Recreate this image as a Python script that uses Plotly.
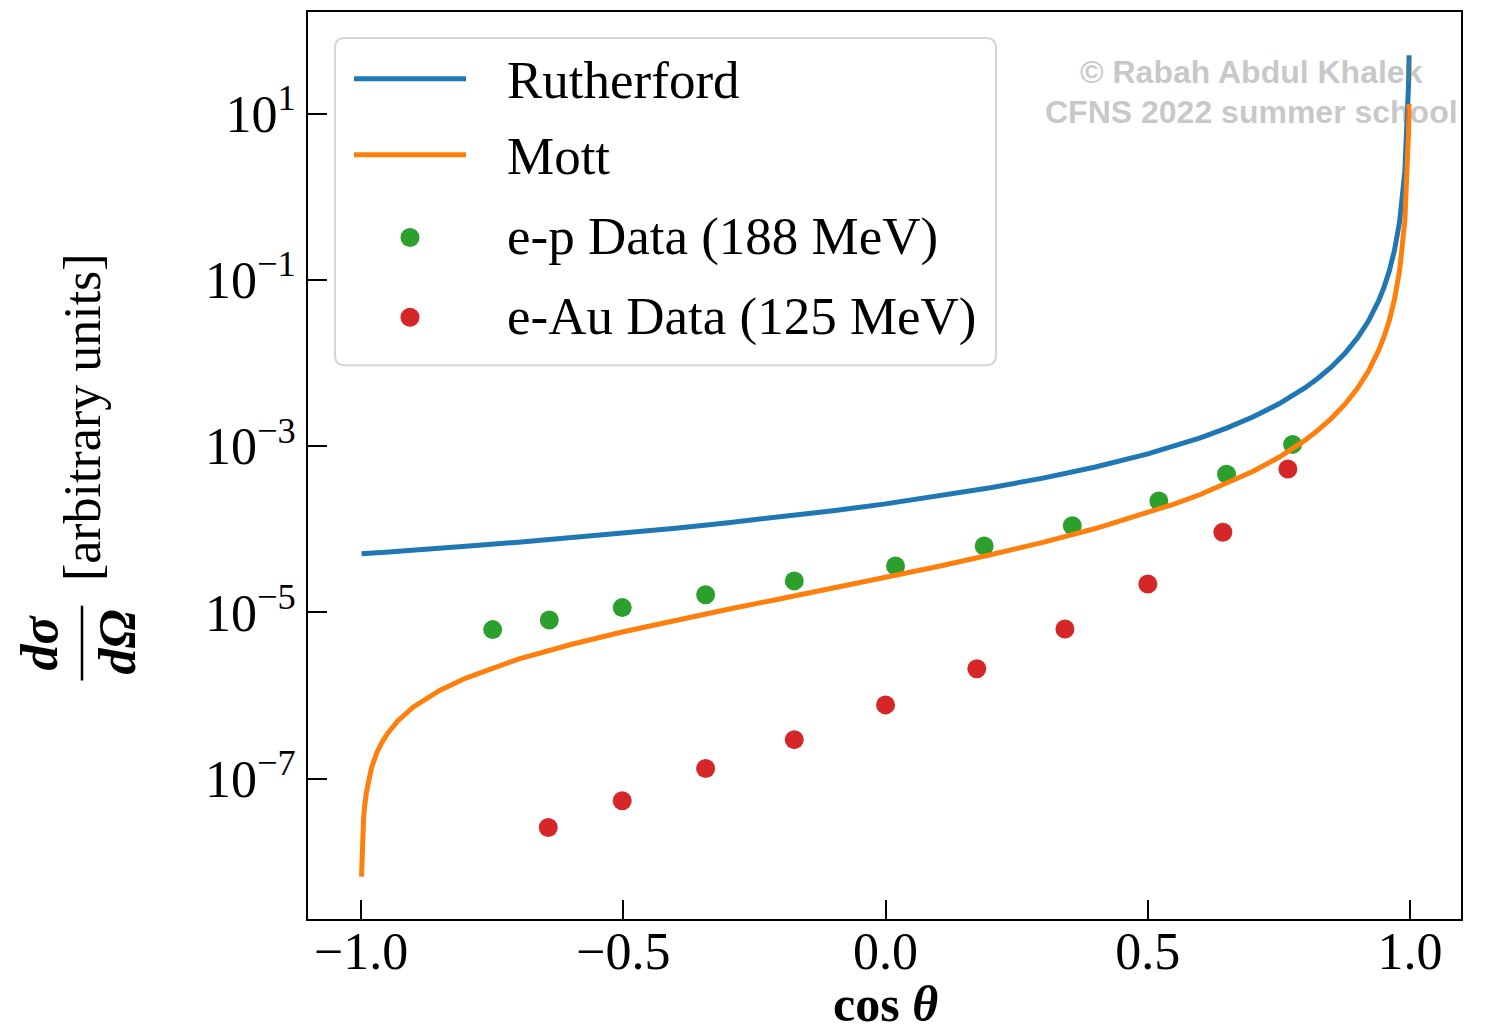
import plotly.graph_objects as go

# ---------------- data ----------------
cos_theta = [-0.999, -0.998, -0.995, -0.993, -0.99, -0.98, -0.97, -0.96, -0.95, -0.93,
             -0.9, -0.85, -0.8, -0.7, -0.6, -0.5, -0.4, -0.3, -0.2, -0.1,
             0.0, 0.1, 0.2, 0.3, 0.4, 0.5, 0.55, 0.6, 0.65, 0.7,
             0.75, 0.8, 0.825, 0.85, 0.875, 0.9, 0.92, 0.93, 0.94, 0.95,
             0.96, 0.97, 0.98, 0.99, 0.995, 0.996, 0.997, 0.998]
rutherford = [5.06e-5, 5.06e-5, 5.08e-5, 5.09e-5, 5.10e-5, 5.15e-5, 5.20e-5, 5.26e-5, 5.31e-5, 5.42e-5,
              5.60e-5, 5.90e-5, 6.23e-5, 6.99e-5, 7.89e-5, 8.98e-5, 1.03e-4, 1.20e-4, 1.40e-4, 1.67e-4,
              2.02e-4, 2.49e-4, 3.16e-4, 4.12e-4, 5.61e-4, 8.08e-4, 9.98e-4, 1.26e-3, 1.65e-3, 2.24e-3,
              3.23e-3, 5.05e-3, 6.60e-3, 8.98e-3, 1.29e-2, 2.02e-2, 3.16e-2, 4.12e-2, 5.61e-2, 8.08e-2,
              0.126, 0.224, 0.505, 2.02, 8.08, 12.6, 22.4, 50.5]
mott = [6.6e-9, 1.32e-8, 3.30e-8, 4.63e-8, 6.63e-8, 1.34e-7, 2.03e-7, 2.73e-7, 3.45e-7, 4.93e-7,
        7.28e-7, 1.15e-6, 1.62e-6, 2.73e-6, 4.10e-6, 5.84e-6, 8.03e-6, 1.09e-5, 1.46e-5, 1.95e-5,
        2.63e-5, 3.56e-5, 4.93e-5, 6.96e-5, 1.02e-4, 1.58e-4, 2.01e-4, 2.62e-4, 3.54e-4, 4.95e-4,
        7.35e-4, 1.18e-3, 1.57e-3, 2.16e-3, 3.15e-3, 4.99e-3, 7.88e-3, 1.03e-2, 1.42e-2, 2.05e-2,
        3.21e-2, 5.74e-2, 0.130, 0.523, 2.10, 3.27, 5.82, 13.1]

ep_cos = [-0.749, -0.641, -0.502, -0.343, -0.174, 0.019, 0.188, 0.356, 0.521, 0.650, 0.776]
ep_xs = [6.2e-6, 8.1e-6, 1.14e-5, 1.63e-5, 2.39e-5, 3.62e-5, 6.3e-5, 1.10e-4, 2.19e-4, 4.6e-4, 1.05e-3]

eau_cos = [-0.643, -0.502, -0.343, -0.174, 0.0, 0.174, 0.342, 0.500, 0.643, 0.767]
eau_xs = [2.58e-8, 5.4e-8, 1.32e-7, 2.94e-7, 7.7e-7, 2.09e-6, 6.3e-6, 2.19e-5, 9.2e-5, 5.3e-4]

x_tickvals = [-1.0, -0.5, 0.0, 0.5, 1.0]
x_ticktext = ["\u22121.0", "\u22120.5", "0.0", "0.5", "1.0"]
y_tickvals = [1e1, 1e-1, 1e-3, 1e-5, 1e-7]
y_ticktext = ["10<sup>1</sup>", "10<sup>\u22121</sup>", "10<sup>\u22123</sup>",
              "10<sup>\u22125</sup>", "10<sup>\u22127</sup>"]

legend_labels = ["Rutherford", "Mott", "e-p Data (188 MeV)", "e-Au Data (125 MeV)"]
colors = ["#1f77b4", "#ff7f0e", "#2ca02c", "#d62728"]

# ---------------- layout geometry ----------------
W, H = 1490, 1033
L, R, T, B = 308, 1461, 10, 919   # plot area in pixels
SERIF = "Liberation Serif, Times New Roman, serif"


def px(xp):
    return (xp - L) / (R - L)


def py(yp):
    return (B - yp) / (B - T)


fig = go.Figure()

fig.add_trace(go.Scatter(x=ep_cos, y=ep_xs, mode="markers", name=legend_labels[2],
                         marker=dict(color=colors[2], size=19, line=dict(width=0)),
                         showlegend=False))
fig.add_trace(go.Scatter(x=eau_cos, y=eau_xs, mode="markers", name=legend_labels[3],
                         marker=dict(color=colors[3], size=19, line=dict(width=0)),
                         showlegend=False))
fig.add_trace(go.Scatter(x=cos_theta, y=rutherford, mode="lines", name=legend_labels[0],
                         line=dict(color=colors[0], width=5), showlegend=False))
fig.add_trace(go.Scatter(x=cos_theta, y=mott, mode="lines", name=legend_labels[1],
                         line=dict(color=colors[1], width=5), showlegend=False))

shapes = []
annotations = []

# ---- manual legend (matplotlib-like) ----
bx0, bx1, by0, by1 = px(335), px(996), py(364), py(36)
rx, ry = 10 / (R - L), 10 / (B - T)
path = (f"M {bx0+rx},{by0} L {bx1-rx},{by0} Q {bx1},{by0} {bx1},{by0+ry} "
        f"L {bx1},{by1-ry} Q {bx1},{by1} {bx1-rx},{by1} "
        f"L {bx0+rx},{by1} Q {bx0},{by1} {bx0},{by1-ry} "
        f"L {bx0},{by0+ry} Q {bx0},{by0} {bx0+rx},{by0} Z")
shapes.append(dict(type="path", path=path, xref="paper", yref="paper",
                   fillcolor="rgba(255,255,255,0.8)", line=dict(color="#d6d6d6", width=2),
                   layer="above"))

entry_y = [77, 153, 236, 316]
for i in range(2):
    shapes.append(dict(type="line", xref="paper", yref="paper",
                       x0=px(354), x1=px(466), y0=py(entry_y[i]), y1=py(entry_y[i]),
                       line=dict(color=colors[i], width=5), layer="above"))
for i in range(2, 4):
    shapes.append(dict(type="circle", xref="paper", yref="paper",
                       xsizemode="pixel", ysizemode="pixel",
                       xanchor=px(410), yanchor=py(entry_y[i]),
                       x0=-9.5, x1=9.5, y0=-9.5, y1=9.5,
                       fillcolor=colors[i], line=dict(width=0), layer="above"))
text_y = [78, 154, 235, 315]
for i in range(4):
    annotations.append(dict(text=legend_labels[i], xref="paper", yref="paper",
                            x=px(505), y=py(text_y[i]), xanchor="left", yanchor="middle",
                            showarrow=False, font=dict(family=SERIF, size=53, color="black")))

# ---- watermark ----
wm_font = dict(family="Liberation Sans, Arial, sans-serif", size=32,
               color="rgba(120,120,120,0.42)")
annotations.append(dict(text="<b>\u00a9 Rabah Abdul Khalek</b>", xref="paper", yref="paper",
                        x=px(1251), y=py(70), xanchor="center", yanchor="middle",
                        showarrow=False, font=wm_font))
annotations.append(dict(text="<b>CFNS 2022 summer school</b>", xref="paper", yref="paper",
                        x=px(1251), y=py(110), xanchor="center", yanchor="middle",
                        showarrow=False, font=wm_font))

# ---- axis titles ----
annotations.append(dict(text="<b>cos <i>\u03b8</i></b>", xref="paper", yref="paper",
                        x=px(885), y=py(1004), xanchor="center", yanchor="middle",
                        showarrow=False, font=dict(family=SERIF, size=50, color="black")))
annotations.append(dict(text="<b><i>d\u03c3</i></b>", xref="paper", yref="paper",
                        x=px(40), y=py(642), xanchor="center", yanchor="middle", textangle=-90,
                        showarrow=False, font=dict(family=SERIF, size=52, color="black")))
annotations.append(dict(text="<b><i>d\u03a9</i></b>", xref="paper", yref="paper",
                        x=px(118), y=py(642), xanchor="center", yanchor="middle", textangle=-90,
                        showarrow=False, font=dict(family=SERIF, size=52, color="black")))
shapes.append(dict(type="line", xref="paper", yref="paper",
                   x0=px(82), x1=px(82), y0=py(680), y1=py(605),
                   line=dict(color="black", width=2.5)))
annotations.append(dict(text="[arbitrary units]", xref="paper", yref="paper",
                        x=px(82), y=py(416), xanchor="center", yanchor="middle", textangle=-90,
                        showarrow=False, font=dict(family=SERIF, size=52, color="black")))

fig.update_layout(
    width=W, height=H,
    margin=dict(l=L, r=W - R, t=T, b=H - B),
    paper_bgcolor="white", plot_bgcolor="white",
    showlegend=False,
    shapes=shapes, annotations=annotations,
    font=dict(family=SERIF, color="black"),
)
fig.update_xaxes(range=[-1.101, 1.097], tickvals=x_tickvals, ticktext=x_ticktext,
                 showgrid=False, zeroline=False, showline=True, mirror=True,
                 linecolor="black", linewidth=2, ticks="inside", ticklen=19, tickwidth=1.6,
                 tickcolor="black", ticklabelstandoff=-14,
                 tickfont=dict(family=SERIF, size=52, color="black"))
fig.update_yaxes(type="log", range=[-8.69, 2.224], tickvals=y_tickvals, ticktext=y_ticktext,
                 showgrid=False, zeroline=False, showline=True, mirror=True,
                 linecolor="black", linewidth=2, ticks="inside", ticklen=19, tickwidth=1.6,
                 tickcolor="black", tickfont=dict(family=SERIF, size=52, color="black"))

fig.write_html("out.html")
